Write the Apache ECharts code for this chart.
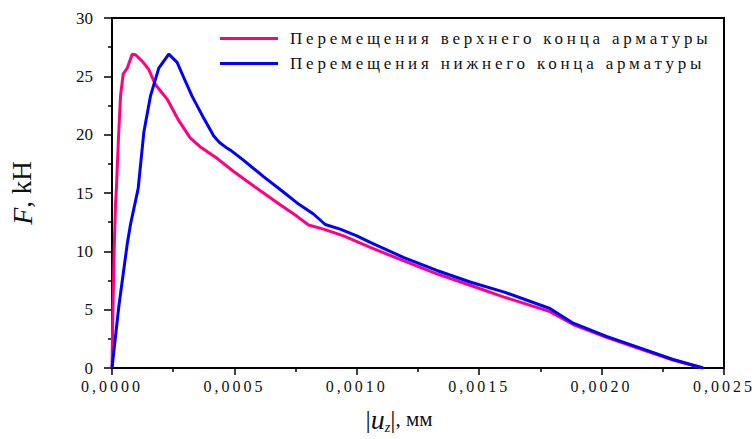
<!DOCTYPE html>
<html><head><meta charset="utf-8">
<script src="https://cdn.jsdelivr.net/npm/echarts@6/dist/echarts.min.js"></script>
<style>html,body{margin:0;padding:0;background:#fff}#c{width:756px;height:439px}</style>
</head><body><div id="c"></div>
<script>
const seriesNames = ['Перемещения верхнего конца арматуры', 'Перемещения нижнего конца арматуры'];
const seriesColors = ['#ff0080', '#0000ff'];

const upperU = [0, 0.000003, 0.000008, 0.0000143, 0.0000184, 0.000026, 0.0000347, 0.0000457, 0.000062, 0.0000824, 0.0000959, 0.000123, 0.00015, 0.000177, 0.000225, 0.000273, 0.00032, 0.000361, 0.000429, 0.000497, 0.000552, 0.000619, 0.000687, 0.000756, 0.000803, 0.000864, 0.000946, 0.001055, 0.00119, 0.001327, 0.001463, 0.001599, 0.001789, 0.001884, 0.00202, 0.002156, 0.002292, 0.002413];
const upperF = [0, 4, 9.5, 14.0, 15.6, 19.5, 23.3, 25.2, 25.7, 26.9, 26.85, 26.3, 25.6, 24.3, 23.05, 21.2, 19.7, 18.95, 17.97, 16.84, 16.0, 15.0, 14.0, 13.0, 12.26, 11.9, 11.33, 10.34, 9.2, 8.07, 7.09, 6.1, 4.83, 3.73, 2.63, 1.65, 0.68, 0];

const lowerU = [0, 0.0000277, 0.000062, 0.0000755, 0.000107, 0.00013, 0.000157, 0.000191, 0.000232, 0.000266, 0.000293, 0.000327, 0.000375, 0.000415, 0.000438, 0.000463, 0.000484, 0.000538, 0.000619, 0.000687, 0.000756, 0.000823, 0.000871, 0.000932, 0.001, 0.001055, 0.00119, 0.001327, 0.001463, 0.001599, 0.001789, 0.001884, 0.00202, 0.002156, 0.002292, 0.002415];
const lowerF = [0, 5.25, 10.6, 12.3, 15.4, 20.2, 23.3, 25.7, 26.9, 26.2, 24.9, 23.3, 21.4, 19.9, 19.35, 18.95, 18.67, 17.8, 16.4, 15.3, 14.15, 13.2, 12.3, 11.9, 11.33, 10.76, 9.49, 8.36, 7.37, 6.53, 5.1, 3.84, 2.71, 1.72, 0.73, 0];

const xTickLabels = ['0,0000', '0,0005', '0,0010', '0,0015', '0,0020', '0,0025'];
const yTickLabels = ['0', '5', '10', '15', '20', '25', '30'];

const FONT = 'Liberation Serif, Times New Roman, serif';
const chart = echarts.init(document.getElementById('c'), null, {renderer: 'svg'});

chart.setOption({
  animation: false,
  backgroundColor: '#fff',
  grid: {left: 111, right: 32, top: 18, bottom: 67, show: true, borderColor: '#000', borderWidth: 2, backgroundColor: 'transparent'},
  legend: {
    data: seriesNames.map((n, i) => ({name: n, icon: 'rect', itemStyle: {color: seriesColors[i]}})),
    orient: 'vertical', left: 215, top: 25, itemWidth: 58, itemHeight: 3, itemGap: 8,
    textStyle: {fontFamily: FONT, fontSize: 17, color: '#111', padding: [0, 0, 0, 7]}
  },
  xAxis: {
    type: 'value', min: 0, max: 0.0025, interval: 0.0005,
    axisLine: {show: true, lineStyle: {color: '#000', width: 2}},
    axisTick: {show: true, length: 7, lineStyle: {color: '#000', width: 1.5}},
    minorTick: {show: true, splitNumber: 2, length: 4, lineStyle: {color: '#000', width: 1.5}},
    splitLine: {show: false},
    axisLabel: {margin: 10, fontFamily: FONT, fontSize: 16, color: '#111',
      formatter: v => xTickLabels[Math.round(v / 0.0005)]},
    name: '{a||}{u|u}{z|z}{a||}{b|, мм}', nameLocation: 'middle', nameGap: 36,
    nameTextStyle: {padding: [0, 38, 0, 0], rich: {
      a: {fontFamily: FONT, fontSize: 26, color: '#111'},
      u: {fontFamily: FONT, fontSize: 28, fontStyle: 'italic', color: '#111'},
      z: {fontFamily: FONT, fontSize: 14, fontStyle: 'italic', color: '#111', padding: [16, 0, 0, 0]},
      b: {fontFamily: FONT, fontSize: 21, color: '#111'}
    }}
  },
  yAxis: {
    type: 'value', min: 0, max: 30, interval: 5,
    axisLine: {show: true, lineStyle: {color: '#000', width: 2}},
    axisTick: {show: true, length: 8, lineStyle: {color: '#000', width: 1.5}},
    minorTick: {show: true, splitNumber: 2, length: 4, lineStyle: {color: '#000', width: 1.5}},
    splitLine: {show: false},
    axisLabel: {margin: 19, fontFamily: FONT, fontSize: 17, color: '#111',
      formatter: v => yTickLabels[Math.round(v / 5)]},
    name: '{f|F}{b|, kH}', nameLocation: 'middle', nameRotate: 90, nameGap: 76,
    nameTextStyle: {rich: {
      f: {fontFamily: FONT, fontSize: 28, fontStyle: 'italic', color: '#111'},
      b: {fontFamily: FONT, fontSize: 27, color: '#111'}
    }}
  },
  series: [
    {name: seriesNames[0], type: 'line', showSymbol: false, symbol: 'none',
     lineStyle: {color: seriesColors[0], width: 3}, itemStyle: {color: seriesColors[0]},
     data: upperU.map((u, i) => [u, upperF[i]])},
    {name: seriesNames[1], type: 'line', showSymbol: false, symbol: 'none',
     lineStyle: {color: seriesColors[1], width: 3}, itemStyle: {color: seriesColors[1]},
     data: lowerU.map((u, i) => [u, lowerF[i]])}
  ]
});

function spaceText() {
  document.querySelectorAll('#c svg text').forEach(t => {
    const s = t.textContent;
    if (seriesNames.includes(s)) t.style.letterSpacing = '3.8px';
    else if (xTickLabels.includes(s)) t.style.letterSpacing = '3px';
  });
}
spaceText();
chart.on('finished', spaceText);
</script></body></html>
